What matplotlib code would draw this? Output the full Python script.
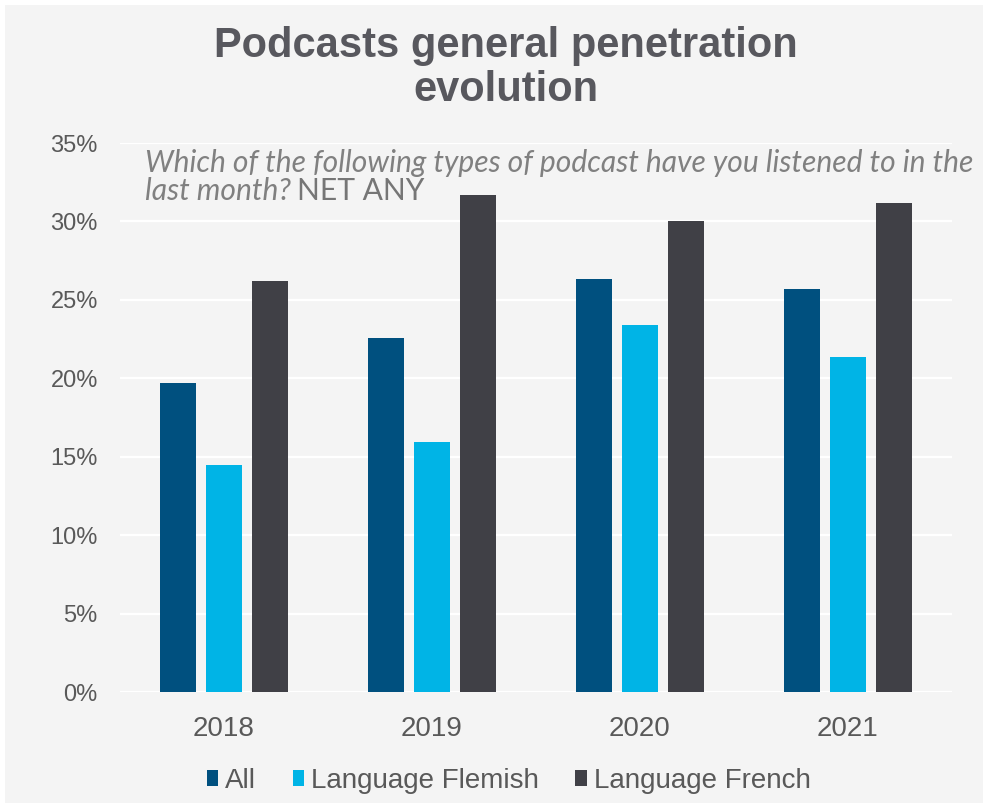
import matplotlib
matplotlib.use("Agg")
import matplotlib.pyplot as plt
import numpy as np
from matplotlib.patches import Patch, Rectangle

years = ["2018", "2019", "2020", "2021"]
series = ["All", "Language Flemish", "Language French"]
all_vals = [19.7, 22.6, 26.3, 25.7]
flemish_vals = [14.5, 15.95, 23.4, 21.35]
french_vals = [26.2, 31.7, 30.0, 31.2]
y_ticks = [0, 5, 10, 15, 20, 25, 30, 35]

colors = ["#00507f", "#00b4e6", "#404046"]
bg = "#f4f4f4"
text_gray = "#595959"

plt.rcParams["font.family"] = ["Liberation Sans", "DejaVu Sans"]

W, H = 988, 809
fig = plt.figure(figsize=(W / 100, H / 100), dpi=100)
fig.patch.set_facecolor("white")
fig.patches.append(Rectangle((0.005, 0.008), 0.99, 0.986, transform=fig.transFigure,
                             facecolor=bg, edgecolor="none", zorder=-10))

ax = fig.add_axes([0.1215, 0.1446, 0.842, 0.6786])
ax.set_facecolor("none")

x = np.arange(len(years))
width = 0.173
offset = 0.221
for i, (name, vals) in enumerate(zip(series, [all_vals, flemish_vals, french_vals])):
    ax.bar(x + (i - 1) * offset, vals, width, color=colors[i], label=name, zorder=3)

ax.set_xlim(-0.5, 3.5)
ax.set_ylim(0, 35)
ax.set_yticks(y_ticks)
ax.set_yticklabels([f"{t}%" for t in y_ticks])
ax.set_xticks(x)
ax.set_xticklabels(years)
for t in y_ticks:
    ax.axhline(t, color="white", lw=1.6, zorder=1)
for s in ax.spines.values():
    s.set_visible(False)
ax.tick_params(axis="both", length=0, colors=text_gray)
ax.tick_params(axis="y", pad=16, labelsize=17)
ax.tick_params(axis="x", pad=17, labelsize=20)

# title
fig.text(0.512, 1 - 68 / H, "Podcasts general penetration\nevolution", ha="center", va="center",
         fontsize=30, fontweight="bold", color="#58585e", linespacing=1.12)

# subtitle: italic question + regular "NET ANY", scaled to span the reference width
sub_color = "#808080"
sub_kw = dict(color=sub_color, style="italic", family="Lato")
line1 = fig.text(145 / W, 1 - 172 / H, "Which of the following types of podcast have you listened to in the",
                 va="baseline", ha="left", fontsize=18, **sub_kw)
fig.canvas.draw()
fs = 18 * (975 - 145) / line1.get_window_extent().width
line1.set_fontsize(fs)
t2 = fig.text(145 / W, 1 - 200 / H, "last month?", va="baseline", ha="left", fontsize=fs, **sub_kw)
fig.canvas.draw()
bb = t2.get_window_extent()
fig.text(bb.x1 / W + 0.006, 1 - 200 / H, "NET ANY", va="baseline", ha="left",
         fontsize=fs, color="#767676", family="Lato")

handles = [Patch(facecolor=c, edgecolor="none") for c in colors]
fig.legend(handles, series, loc="center", bbox_to_anchor=(0.515, 1 - 781 / H), ncol=3,
           frameon=False, fontsize=20, handlelength=0.43, handleheight=0.5,
           handletextpad=0.25, columnspacing=1.3, labelcolor=text_gray)

fig.savefig("out.png", dpi=100, facecolor=fig.get_facecolor())
